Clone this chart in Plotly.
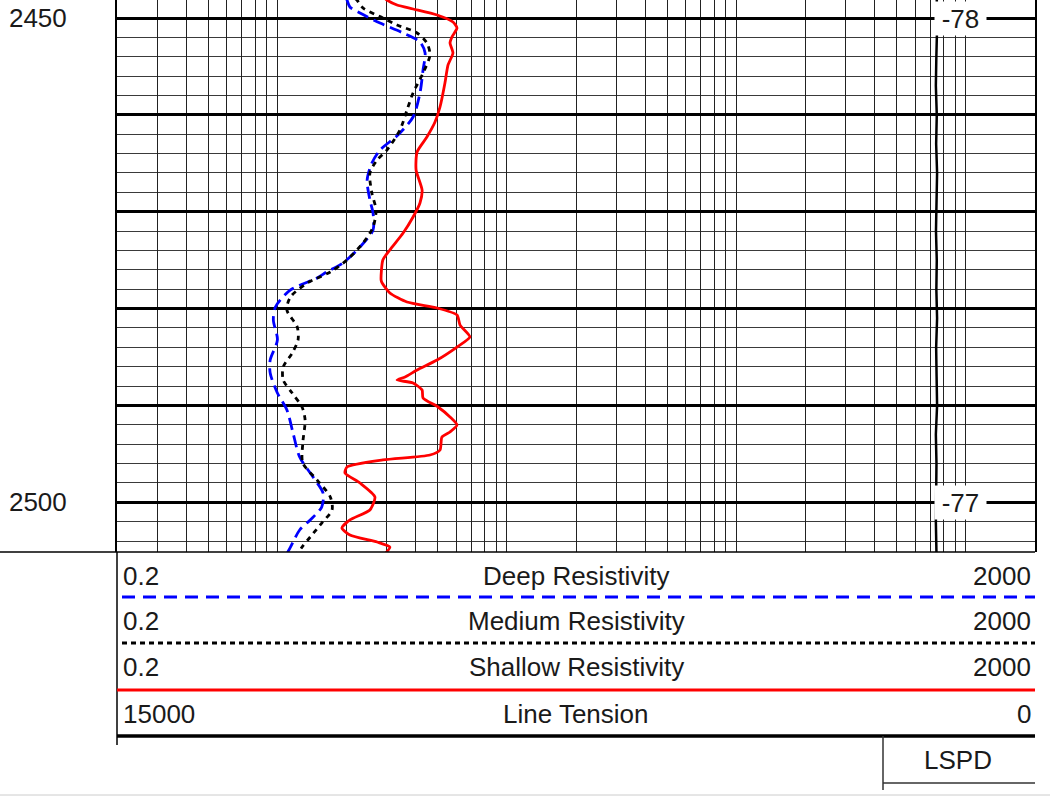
import numpy as np
import plotly.graph_objects as go

# ---------------- data ----------------
# Deep resistivity (ohm.m) vs depth
deep_depth = [2448.0, 2448.14, 2448.86, 2449.48, 2450.52, 2451.55, 2452.48, 2453.61, 2455.37, 2457.74,
              2460.22, 2462.08, 2463.63, 2464.97, 2466.73, 2468.79, 2470.13, 2471.89, 2473.64, 2475.29,
              2476.22, 2476.84, 2478.08, 2479.84, 2481.18, 2483.24, 2485.31, 2486.65, 2488.72, 2490.47,
              2492.85, 2495.32, 2497.39, 2499.04, 2500.48, 2501.82, 2502.86, 2504.62, 2505.3]
deep_res = [2.00, 2.01, 2.07, 2.29, 2.80, 3.53, 4.18, 4.40, 4.31, 4.18,
            3.90, 3.35, 2.80, 2.58, 2.46, 2.53, 2.61, 2.61, 2.29, 1.93,
            1.64, 1.49, 1.14, 0.98, 0.96, 1.00, 0.93, 0.93, 1.00, 1.10,
            1.17, 1.25, 1.43, 1.58, 1.56, 1.39, 1.25, 1.14, 1.10]

# Medium resistivity
med_depth = [2448.0, 2448.14, 2448.97, 2450.0, 2450.72, 2451.55, 2452.58, 2453.82, 2455.68, 2457.74,
             2459.50, 2461.56, 2463.63, 2464.66, 2466.00, 2468.07, 2469.82, 2471.58, 2473.23, 2474.98,
             2476.22, 2477.36, 2478.80, 2480.15, 2481.90, 2483.24, 2484.59, 2486.03, 2487.37, 2488.72,
             2490.16, 2491.50, 2493.88, 2495.94, 2497.70, 2499.45, 2500.79, 2502.14, 2503.58, 2504.62,
             2505.3]
med_res = [2.18, 2.22, 2.36, 2.88, 3.32, 4.06, 4.48, 4.62, 4.31, 3.90,
           3.67, 3.42, 3.00, 2.72, 2.53, 2.58, 2.69, 2.61, 2.36, 2.01,
           1.70, 1.35, 1.14, 1.10, 1.22, 1.23, 1.16, 1.06, 1.06, 1.16,
           1.28, 1.32, 1.29, 1.29, 1.49, 1.70, 1.73, 1.56, 1.39, 1.28,
           1.22]

# Shallow resistivity
shal_depth = [2448.0, 2448.14, 2448.66, 2449.07, 2449.69, 2450.41, 2451.03, 2451.96, 2452.58, 2453.61,
              2454.85, 2456.71, 2459.19, 2460.74, 2462.29, 2463.83, 2465.69, 2467.76, 2469.10, 2470.55,
              2472.20, 2473.95, 2474.98, 2477.05, 2477.36, 2478.39, 2479.32, 2479.94, 2480.66, 2481.70,
              2482.93, 2483.97, 2485.31, 2486.34, 2487.06, 2487.37, 2487.68, 2488.41, 2489.23, 2490.16,
              2491.19, 2492.02, 2492.74, 2493.26, 2494.60, 2495.12, 2495.63, 2496.36, 2496.98, 2498.01,
              2499.45, 2500.79, 2501.82, 2502.65, 2503.38, 2504.10, 2504.62, 2505.3]
shal_res = [2.95, 3.00, 3.32, 3.90, 4.96, 5.82, 6.06, 5.76, 5.65, 5.82,
            5.54, 5.37, 5.11, 4.86, 4.48, 4.06, 4.02, 4.27, 4.18, 3.90,
            3.53, 3.09, 2.88, 2.83, 2.86, 3.09, 3.67, 4.96, 6.06, 6.25,
            6.90, 6.06, 4.96, 4.06, 3.60, 3.32, 3.90, 4.27, 4.31, 5.01,
            5.65, 6.06, 5.65, 5.21, 5.11, 4.62, 2.88, 2.01, 1.97, 2.29,
            2.66, 2.53, 2.07, 1.91, 2.07, 2.72, 3.09, 2.95]

# Line tension (lbf)
ten_depth = [2448.0, 2451, 2454, 2457, 2460, 2463, 2466, 2469, 2472, 2475,
             2478, 2481, 2484, 2487, 2490, 2493, 2496, 2499, 2502, 2505.3]
ten_val = [1605, 1600, 1612, 1620, 1605, 1615, 1600, 1610, 1618, 1605,
           1612, 1600, 1615, 1608, 1600, 1620, 1610, 1615, 1620, 1610]

# depth annotations (LSPD values printed in track)
lspd_depth = [2450, 2500]
lspd_text = ["-78", "-77"]

# depth tick labels
depth_ticks = [2450, 2460, 2470, 2480, 2490, 2500]
depth_ticktext = ["2450", "", "", "", "", "2500"]

# header rows: (left, title, right)
header_rows = [("0.2", "Deep Resistivity", "2000"),
               ("0.2", "Medium Resistivity", "2000"),
               ("0.2", "Shallow Resistivity", "2000"),
               ("15000", "Line Tension", "0")]

# log grid values
grid_vals = []
for dec in [0.1, 1, 10, 100, 1000]:
    for m in range(1, 10):
        v = round(m * dec, 6)
        if 0.2 - 1e-9 <= v <= 2000 + 1e-9:
            grid_vals.append(v)
grid_vals.append(2000)

# ---------------- layout helpers ----------------
W, H = 1050, 796
X0, X1 = 117, 1035        # track pixel extents
Y_TRACK_BOTTOM = 552
FONT = "Liberation Sans, Arial, sans-serif"
TXT = "#1a1a1a"
FS = 26


def px(x):
    return x / W


def py(y):
    return 1 - y / H


fig = go.Figure()

fig.add_trace(go.Scatter(x=deep_res, y=deep_depth, mode="lines", name="Deep Resistivity",
                         line=dict(color="#0000ff", width=2.8, dash="12px,6px", shape="spline", smoothing=0.8),
                         hoverinfo="skip"))
fig.add_trace(go.Scatter(x=med_res, y=med_depth, mode="lines", name="Medium Resistivity",
                         line=dict(color="#000000", width=2.8, dash="5px,5px", shape="spline", smoothing=0.8),
                         hoverinfo="skip"))
fig.add_trace(go.Scatter(x=shal_res, y=shal_depth, mode="lines", name="Shallow Resistivity",
                         line=dict(color="#ff0000", width=2.8, shape="spline", smoothing=0.6),
                         hoverinfo="skip"))
fig.add_trace(go.Scatter(x=ten_val, y=ten_depth, mode="lines", name="Line Tension",
                         xaxis="x2", line=dict(color="#000000", width=2.5), hoverinfo="skip"))

shapes = []


def hline(y, xa, xb, color="black", width=1.5, dash=None):
    ln = dict(color=color, width=width)
    if dash:
        ln["dash"] = dash
    shapes.append(dict(type="line", xref="paper", yref="paper", x0=px(xa), x1=px(xb),
                       y0=py(y), y1=py(y), line=ln, layer="above"))


def vline(x, ya, yb, color="black", width=1.5):
    shapes.append(dict(type="line", xref="paper", yref="paper", x0=px(x), x1=px(x),
                       y0=py(ya), y1=py(yb), line=dict(color=color, width=width), layer="above"))


hline(Y_TRACK_BOTTOM, 0, X1, width=1.5)
vline(X0, Y_TRACK_BOTTOM, 745, width=1.5)
hline(597, 122, X1, color="#0000ff", width=3, dash="13px,8px")
hline(643, 122, X1, color="#000000", width=3, dash="5px,4px")
hline(690, X0, X1, color="#ff0000", width=3)
hline(736, X0, X1, color="#000000", width=3.5)
vline(883, 736, 790, color="#333333", width=1.5)
hline(783, 883, X1, color="#333333", width=1.5)
hline(795, 0, W, color="#cccccc", width=1)

annotations = []
row_y = [576, 621, 667, 714]
for (lt, title, rt), yy in zip(header_rows, row_y):
    f = dict(family=FONT, size=FS, color=TXT)
    annotations.append(dict(xref="paper", yref="paper", x=px(121), y=py(yy), text=lt,
                            xanchor="left", yanchor="middle", showarrow=False, font=f))
    annotations.append(dict(xref="paper", yref="paper", x=px((X0 + X1) / 2), y=py(yy), text=title,
                            xanchor="center", yanchor="middle", showarrow=False, font=f))
    annotations.append(dict(xref="paper", yref="paper", x=px(1033), y=py(yy), text=rt,
                            xanchor="right", yanchor="middle", showarrow=False, font=f))
annotations.append(dict(xref="paper", yref="paper", x=px(958), y=py(760), text="LSPD",
                        xanchor="center", yanchor="middle", showarrow=False,
                        font=dict(family=FONT, size=FS, color=TXT)))
for d, t in zip(lspd_depth, lspd_text):
    annotations.append(dict(xref="paper", yref="y", x=px(960), y=d, text=t,
                            xanchor="center", yanchor="middle", showarrow=False,
                            bgcolor="white", width=49, height=31,
                            font=dict(family=FONT, size=FS, color=TXT)))

fig.update_layout(
    width=W, height=H,
    margin=dict(l=0, r=0, t=0, b=0),
    paper_bgcolor="white", plot_bgcolor="white",
    showlegend=False,
    xaxis=dict(type="log", range=[np.log10(0.2), np.log10(2000)],
               domain=[px(X0), px(X1)], tickmode="array", tickvals=grid_vals,
               showticklabels=False, ticks="", showgrid=True, gridcolor="#222222",
               gridwidth=1, zeroline=False, showline=False, fixedrange=True),
    xaxis2=dict(range=[15000, 0], domain=[px(X0), px(X1)], overlaying="x", anchor="y",
                visible=False, showgrid=False, fixedrange=True),
    yaxis=dict(domain=[py(Y_TRACK_BOTTOM), 1], range=[2450 + (Y_TRACK_BOTTOM - 18) / 9.686, 2450 - 18 / 9.686],
               tickmode="array", tickvals=depth_ticks, ticktext=depth_ticktext,
               showgrid=True, gridcolor="#000000", gridwidth=2.5,
               minor=dict(dtick=2, tick0=2450, showgrid=True, gridcolor="#3a3a3a", gridwidth=1, ticks=""),
               ticks="", ticklabelstandoff=43,
               tickfont=dict(family=FONT, size=FS, color=TXT),
               showline=True, mirror=True, linecolor="black", linewidth=2,
               zeroline=False, fixedrange=True),
    shapes=shapes,
    annotations=annotations,
)

fig.write_html("out.html", config={"displayModeBar": False},
               post_script="document.body.style.margin='0px';")
